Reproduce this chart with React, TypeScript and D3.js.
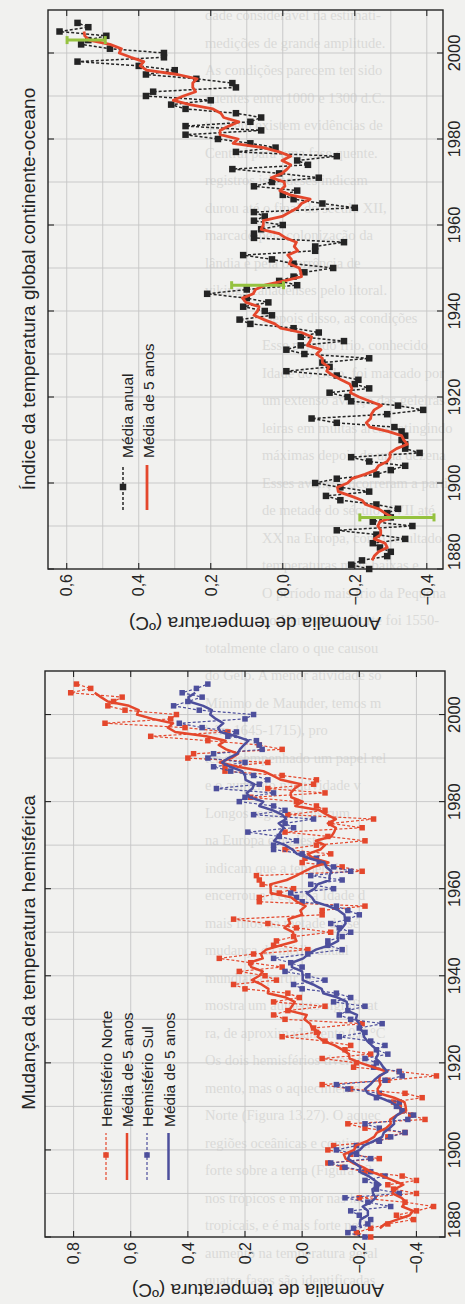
import React from "react";
import * as d3 from "d3";

// ---------------------------------------------------------------------------
// Data (°C anomalies). Index 0 = 1880, last = 2007.
// ---------------------------------------------------------------------------
const FIRST_YEAR = 1880;
const MEAN_FIRST = 1882;
const MEAN_LAST = 2005;

// Global land–ocean temperature index, annual means
const globalAnnual = [
  -0.24, -0.19, -0.22, -0.29, -0.30, -0.27, -0.25, -0.34, -0.26, -0.15,
  -0.36, -0.25, -0.30, -0.29, -0.32, -0.26, -0.16, -0.12, -0.24, -0.16,
  -0.09, -0.15, -0.26, -0.30, -0.34, -0.24, -0.19, -0.38, -0.34, -0.34,
  -0.33, -0.34, -0.33, -0.31, -0.15, -0.08, -0.29, -0.39, -0.32, -0.19,
  -0.18, -0.13, -0.24, -0.20, -0.21, -0.15, -0.01, -0.13, -0.11, -0.24,
  -0.06, -0.01, -0.05, -0.17, -0.05, -0.10, -0.03, 0.09, 0.12, 0.03,
  0.05, 0.11, 0.04, 0.10, 0.21, 0.10, -0.04, 0.01, -0.03, -0.06,
  -0.14, -0.03, 0.03, 0.11, -0.09, -0.09, -0.17, 0.08, 0.08, 0.06,
  0.0, 0.08, 0.05, 0.08, -0.20, -0.11, -0.03, 0.0, -0.04, 0.08,
  0.03, -0.10, 0.01, 0.14, -0.07, -0.04, -0.15, 0.13, 0.02, 0.09,
  0.18, 0.27, 0.06, 0.27, 0.09, 0.06, 0.13, 0.27, 0.31, 0.20,
  0.38, 0.36, 0.13, 0.14, 0.24, 0.38, 0.30, 0.40, 0.57, 0.33,
  0.33, 0.48, 0.56, 0.54, 0.49, 0.62, 0.54, 0.57,
];

// Northern Hemisphere, annual means
const northAnnual = [
  -0.24, -0.19, -0.24, -0.30, -0.39, -0.33, -0.40, -0.46, -0.36, -0.20,
  -0.40, -0.32, -0.30, -0.40, -0.35, -0.22, -0.14, -0.09, -0.27, -0.17,
  -0.09, -0.11, -0.27, -0.30, -0.36, -0.22, -0.16, -0.43, -0.38, -0.35,
  -0.34, -0.32, -0.42, -0.36, -0.17, -0.07, -0.30, -0.47, -0.34, -0.18,
  -0.19, -0.07, -0.24, -0.15, -0.17, -0.08, 0.07, -0.05, -0.04, -0.21,
  0.06, 0.10, 0.05, -0.08, 0.10, 0.01, 0.05, 0.20, 0.24, 0.09,
  0.13, 0.22, 0.07, 0.18, 0.29, 0.17, -0.02, 0.10, 0.09, 0.03,
  -0.10, 0.02, 0.12, 0.24, -0.07, -0.07, -0.22, 0.15, 0.15, 0.08,
  0.03, 0.14, 0.15, 0.16, -0.21, -0.14, 0.0, -0.01, -0.10, 0.06,
  -0.05, -0.22, -0.09, 0.06, -0.21, -0.10, -0.25, 0.05, -0.08, -0.05,
  0.02, 0.18, -0.08, 0.12, -0.04, -0.05, 0.07, 0.27, 0.27, 0.12,
  0.40, 0.38, 0.07, 0.15, 0.33, 0.53, 0.26, 0.41, 0.69, 0.46,
  0.44, 0.62, 0.68, 0.66, 0.63, 0.81, 0.74, 0.79,
];

// Southern Hemisphere, annual means
const southAnnual = [
  -0.22, -0.16, -0.18, -0.23, -0.24, -0.20, -0.17, -0.31, -0.23, -0.15,
  -0.34, -0.26, -0.26, -0.22, -0.29, -0.24, -0.15, -0.10, -0.24, -0.19,
  -0.12, -0.19, -0.27, -0.31, -0.36, -0.27, -0.22, -0.37, -0.39, -0.35,
  -0.33, -0.34, -0.26, -0.27, -0.16, -0.12, -0.29, -0.35, -0.34, -0.25,
  -0.26, -0.22, -0.30, -0.26, -0.29, -0.24, -0.13, -0.22, -0.20, -0.28,
  -0.17, -0.13, -0.16, -0.22, -0.11, -0.17, -0.12, 0.0, 0.03, -0.08,
  -0.02, 0.06, 0.0, 0.04, 0.10, -0.02, -0.14, -0.09, -0.09, -0.14,
  -0.17, -0.13, -0.10, -0.16, -0.20, -0.16, -0.12, 0.0, 0.02, 0.04,
  -0.11, -0.03, -0.14, -0.03, -0.17, -0.11, -0.06, -0.05, 0.0, 0.10,
  0.10, 0.02, 0.08, 0.19, 0.03, 0.06, -0.04, 0.17, 0.06, 0.10,
  0.22, 0.20, 0.10, 0.30, 0.15, 0.12, 0.17, 0.25, 0.31, 0.20,
  0.33, 0.31, 0.14, 0.15, 0.16, 0.26, 0.23, 0.35, 0.43, 0.20,
  0.17, 0.36, 0.45, 0.40, 0.35, 0.42, 0.37, 0.33,
];

// Uncertainty bars on the global index
const uncertaintyYears = [1892, 1946, 2003];
const uncertaintyCenter = [-0.317, 0.07, 0.546];
const uncertaintyHalf = [0.103, 0.072, 0.053];

// Axes
const yearTicks = [1880, 1900, 1920, 1940, 1960, 1980, 2000];
const globalValueTicks = [0.6, 0.4, 0.2, 0.0, -0.2, -0.4];
const hemiValueTicks = [0.8, 0.6, 0.4, 0.2, 0.0, -0.2, -0.4];

// Text
const globalTitle = "Índice da temperatura global continente-oceano";
const hemiTitle = "Mudança da temperatura hemisférica";
const axisLabel = "Anomalia de temperatura (ºC)";
const globalLegend = ["Média anual", "Média de 5 anos"];
const hemiLegend = ["Hemisfério Norte", "Média de 5 anos", "Hemisfério Sul", "Média de 5 anos"];

// Printed page text showing behind the figure
const pageText = [
  "dade considerável na estimati-",
  "medições de grande amplitude.",
  "As condições parecem ter sido",
  "quentes entre 1000 e 1300 d.C.",
  "também existem evidências de",
  "Central para uma fase quente.",
  "registros islandeses indicam",
  "durou até o final do século XII,",
  "marcado pela colonização da",
  "lândia e pela ocorrência de",
  "vikings canadenses pelo litoral.",
  "Depois disso, as condições",
  "Esse período frio, conhecido",
  "Idade do Gelo, foi marcado por",
  "um extenso avanço das geleiras",
  "leiras em muitas áreas, atingindo",
  "máximas depois de uma dezena",
  "Esses avanços ocorreram a partir",
  "de metade do século XVII até",
  "XX na Europa, como resultado",
  "temperaturas mais baixas e",
  "O período mais frio da Pequena",
  "no Hemisfério Norte foi 1550-",
  "totalmente claro o que causou",
  "do Gelo. A menor atividade so",
  "Mínimo de Maunder, temos m",
  "bém 1645-1715), pro",
  "ter desempenhado um papel rel",
  "e o aumento na atividade v",
  "Longos registros instrum",
  "na Europa e no leste",
  "indicam que a tendência",
  "encerrou a Pequena Idade d",
  "mais frios na metade do sé",
  "mudança da média anual",
  "mundial a partir de",
  "mostra um aumento significat",
  "ra, de aproximadamente 0,6 °C",
  "Os dois hemisférios tiveram",
  "mento, mas o aquecimento",
  "Norte (Figura 13.27). O aquec",
  "regiões oceânicas e continen",
  "forte sobre a terra (Figura 13",
  "nos trópicos e maior nas lati",
  "tropicais, e é mais forte no In",
  "aumento na temperatura geral",
  "quatro fases são identificadas",
];

// ---------------------------------------------------------------------------
// Styles
// ---------------------------------------------------------------------------
const W = 465;
const H = 1304;
const PAPER = "#f1f1ef";
const FAINT = "#dadad8";
const INK = "#242424";
const GRID = "#c5c5c5";
const RED = "#e4472c";
const BLUE = "#4d4f9c";
const GREEN = "#95c23f";
const SANS = "'Liberation Sans', Arial, Helvetica, sans-serif";
const SERIF = "'Liberation Serif', 'DejaVu Serif', serif";

type Scale = d3.ScaleLinear<number, number>;

const fmt = (v: number) => d3.format(".1f")(v).replace(".", ",");

function fiveYearMean(values: number[]): [number, number][] {
  const out: [number, number][] = [];
  values.forEach((_, i) => {
    const yr = FIRST_YEAR + i;
    if (yr < MEAN_FIRST || yr > MEAN_LAST) return;
    out.push([yr, d3.mean(values.slice(i - 2, i + 3)) as number]);
  });
  return out;
}

// Frame, grid and inward ticks of one panel (drawn in the unrotated frame:
// x = year, y = anomaly).
function Frame({ ys, vs, gridVals, tickVals }: { ys: Scale; vs: Scale; gridVals: number[]; tickVals: number[] }) {
  const [u0, u1] = ys.range();
  const [vb, vt] = vs.range();
  const gridYears = d3.range(1890, 2001, 10);
  const t = 6;
  return (
    <g>
      {gridVals.map((v) => (
        <line key={"gv" + v} x1={u0} x2={u1} y1={vs(v)} y2={vs(v)} stroke={GRID} strokeWidth={0.9} />
      ))}
      {gridYears.map((y) => (
        <line key={"gy" + y} x1={ys(y)} x2={ys(y)} y1={vt} y2={vb} stroke={GRID} strokeWidth={0.9} />
      ))}
      {tickVals.map((v) => (
        <g key={"tv" + v} stroke={INK} strokeWidth={1.1}>
          <line x1={u0} x2={u0 + t} y1={vs(v)} y2={vs(v)} />
          <line x1={u1} x2={u1 - t} y1={vs(v)} y2={vs(v)} />
        </g>
      ))}
      {yearTicks.map((y) => (
        <g key={"ty" + y} stroke={INK} strokeWidth={1.1}>
          <line x1={ys(y)} x2={ys(y)} y1={vb} y2={vb - t} />
          <line x1={ys(y)} x2={ys(y)} y1={vt} y2={vt + t} />
        </g>
      ))}
      <rect x={u0} y={vt} width={u1 - u0} height={vb - vt} fill="none" stroke={INK} strokeWidth={1.4} />
    </g>
  );
}

function AxisText({ ys, vs, tickVals, tickEnd, title, titleAt, labelAt }: {
  ys: Scale; vs: Scale; tickVals: number[]; tickEnd: number; title: string; titleAt: number; labelAt: [number, number];
}) {
  const u0 = ys.range()[0];
  return (
    <g fontFamily={SANS} fill={INK}>
      {tickVals.map((v) => (
        <text key={v} x={tickEnd} y={vs(v)} dy="0.36em" textAnchor="end" fontSize={16}>
          {fmt(v)}
        </text>
      ))}
      {yearTicks.map((y) => (
        <text key={y} x={y === FIRST_YEAR ? u0 - 1 : ys(y)} y={460} textAnchor={y === FIRST_YEAR ? "start" : "middle"} fontSize={16.5}>
          {y}
        </text>
      ))}
      <text x={titleAt} y={35} textAnchor="middle" fontSize={19}>
        {title}
      </text>
      <text transform={`translate(${labelAt[0]},${labelAt[1]}) rotate(-90)`} textAnchor="middle" fontSize={19}>
        {axisLabel}
      </text>
    </g>
  );
}

function Annual({ values, ys, vs, color, width, size }: { values: number[]; ys: Scale; vs: Scale; color: string; width: number; size: number }) {
  const line = d3.line<number>().x((_, i) => ys(FIRST_YEAR + i)).y((d) => vs(d));
  return (
    <g>
      <path d={line(values) as string} fill="none" stroke={color} strokeWidth={width} strokeDasharray="3,2" />
      {values.map((d, i) => (
        <rect key={i} x={ys(FIRST_YEAR + i) - size / 2} y={vs(d) - size / 2} width={size} height={size} fill={color} />
      ))}
    </g>
  );
}

function Mean({ values, ys, vs, color, width }: { values: number[]; ys: Scale; vs: Scale; color: string; width: number }) {
  const line = d3.line<[number, number]>().x((d) => ys(d[0])).y((d) => vs(d[1]));
  return <path d={line(fiveYearMean(values)) as string} fill="none" stroke={color} strokeWidth={width} strokeLinejoin="round" />;
}

export default function App() {
  // Global index panel
  const gYear = d3.scaleLinear().domain([1880, 2010]).range([735, 1294]);
  const gVal = d3.scaleLinear().domain([-0.445, 0.652]).range([443, 48]);
  // Hemispheric panel
  const hYear = d3.scaleLinear().domain([1880, 2010]).range([67, 633]);
  const hVal = d3.scaleLinear().domain([-0.5, 0.9]).range([445, 45]);

  const globalGrid = d3.range(-4, 7).map((k) => k / 10);

  return (
    <svg width={W} height={H} style={{ position: "absolute", left: 0, top: 0, display: "block" }}>
      <rect width={W} height={H} fill={PAPER} />

      {/* printed page behind the figure */}
      <g fontFamily={SERIF} fontSize={14.5} fill={FAINT}>
        {pageText.map((s, i) => (
          <text key={i} x={i >= 11 && i <= 22 ? 262 : 205} y={20 + i * 27.5}>
            {s}
          </text>
        ))}
      </g>

      <g transform={`translate(0,${H}) rotate(-90)`}>
        {/* ---------------- hemispheric temperature change ---------------- */}
        <Frame ys={hYear} vs={hVal} gridVals={hemiValueTicks} tickVals={hemiValueTicks} />
        <Annual values={northAnnual} ys={hYear} vs={hVal} color={RED} width={1.2} size={5.5} />
        <Annual values={southAnnual} ys={hYear} vs={hVal} color={BLUE} width={1.2} size={5.5} />
        <Mean values={northAnnual} ys={hYear} vs={hVal} color={RED} width={2.5} />
        <Mean values={southAnnual} ys={hYear} vs={hVal} color={BLUE} width={2.5} />
        <AxisText ys={hYear} vs={hVal} tickVals={hemiValueTicks} tickEnd={62} title={hemiTitle} titleAt={351.5} labelAt={[20, 258]} />
        <g fontFamily={SANS} fill={INK} fontSize={15.5}>
          {hemiLegend.map((label, k) => {
            const v = [106, 127, 147, 168.5][k];
            const color = k < 2 ? RED : BLUE;
            const annual = k % 2 === 0;
            return (
              <g key={k}>
                <line x1={124} x2={171} y1={v} y2={v} stroke={color} strokeWidth={annual ? 1.2 : 2.5} strokeDasharray={annual ? "3,2" : undefined} />
                {annual && <rect x={149 - 2.75} y={v - 2.75} width={5.5} height={5.5} fill={color} />}
                <text x={177} y={v + 6}>{label}</text>
              </g>
            );
          })}
        </g>

        {/* ---------------- global land-ocean index ---------------- */}
        <Frame ys={gYear} vs={gVal} gridVals={globalGrid} tickVals={globalValueTicks} />
        <Annual values={globalAnnual} ys={gYear} vs={gVal} color={INK} width={1.5} size={6.5} />
        <Mean values={globalAnnual} ys={gYear} vs={gVal} color={RED} width={2.8} />
        {uncertaintyYears.map((yr, k) => {
          const u = gYear(yr);
          const lo = gVal(uncertaintyCenter[k] - uncertaintyHalf[k]);
          const hi = gVal(uncertaintyCenter[k] + uncertaintyHalf[k]);
          return (
            <g key={yr} stroke={GREEN} strokeWidth={3}>
              <line x1={u} x2={u} y1={lo} y2={hi} />
              <line x1={u - 4} x2={u + 4} y1={lo} y2={lo} />
              <line x1={u - 4} x2={u + 4} y1={hi} y2={hi} />
            </g>
          );
        })}
        <AxisText ys={gYear} vs={gVal} tickVals={globalValueTicks} tickEnd={730} title={globalTitle} titleAt={1015} labelAt={[687, 255]} />
        <g fontFamily={SANS} fill={INK} fontSize={15.5}>
          <line x1={794} x2={839} y1={123} y2={123} stroke={INK} strokeWidth={1.5} strokeDasharray="3,2" />
          <rect x={817 - 3.25} y={123 - 3.25} width={6.5} height={6.5} fill={INK} />
          <text x={846} y={132.5}>{globalLegend[0]}</text>
          <line x1={794} x2={839} y1={147} y2={147} stroke={RED} strokeWidth={2.8} />
          <text x={846} y={153.5}>{globalLegend[1]}</text>
        </g>
      </g>
    </svg>
  );
}
